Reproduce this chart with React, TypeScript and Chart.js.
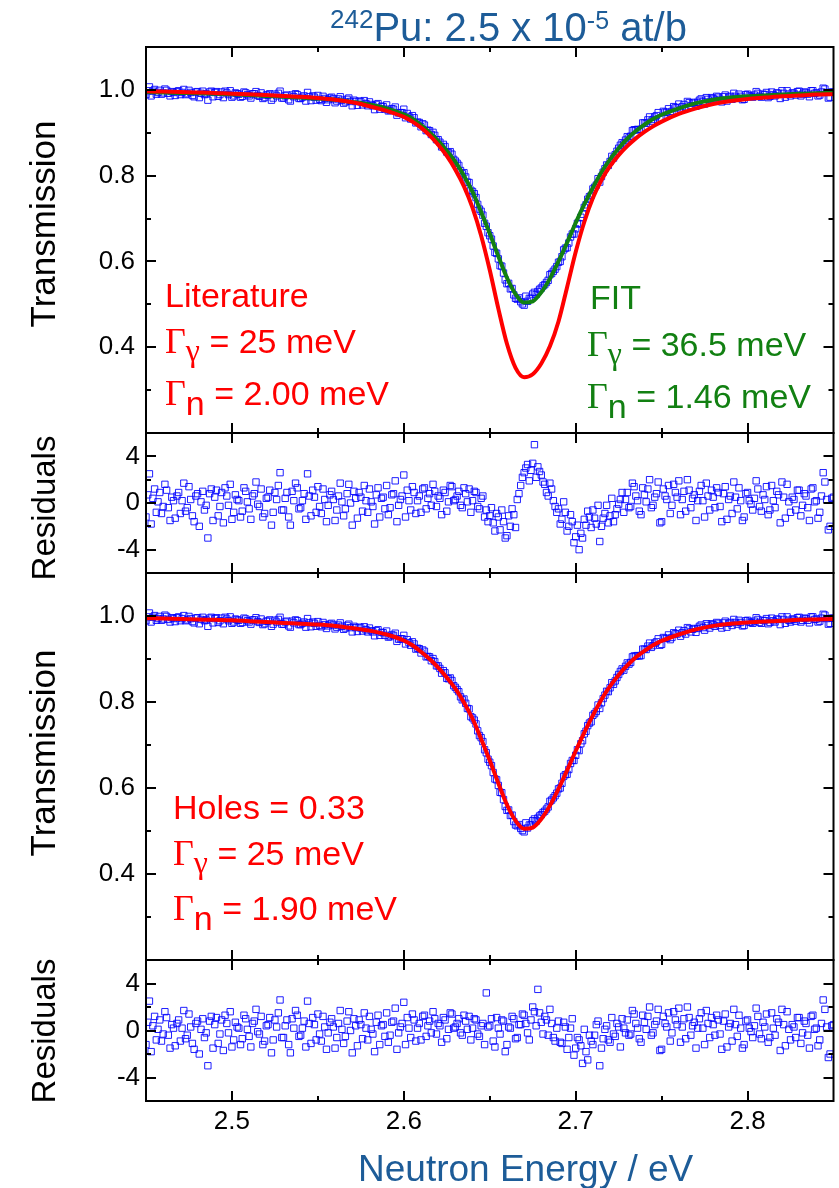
import React, { useEffect, useRef } from "react";
import { Chart, registerables } from "chart.js";

Chart.register(...registerables);

// ---------------- data ----------------
// measured points come on two interleaved energy grids (even / odd channels)
const E_START_EVEN = 2.45;
const E_START_ODD = 2.451;
const E_STEP = 0.002;

// measured transmission (same measurement shown in both transmission panels)
const TRANSMISSION_EVEN = [
  0.989, 1.007, 0.997, 0.990, 0.999, 0.993, 0.999, 0.986, 0.994, 0.996,
  0.989, 1.001, 0.991, 0.994, 0.984, 0.996, 0.992, 0.989, 0.976, 0.997,
  0.994, 0.985, 0.995, 0.997, 0.989, 0.983, 0.993, 0.990, 0.985, 0.993,
  0.986, 0.991, 0.996, 0.985, 0.980, 0.988, 0.991, 0.981, 0.986, 0.997,
  0.981, 0.988, 0.974, 0.984, 0.989, 0.980, 0.986, 0.994, 0.975, 0.983,
  0.987, 0.975, 0.980, 0.977, 0.983, 0.970, 0.979, 0.976, 0.972, 0.981,
  0.963, 0.973, 0.974, 0.965, 0.968, 0.972, 0.963, 0.966, 0.955, 0.961,
  0.965, 0.952, 0.955, 0.941, 0.947, 0.955, 0.945, 0.932, 0.935, 0.925,
  0.914, 0.918, 0.906, 0.896, 0.894, 0.884, 0.867, 0.868, 0.854, 0.850,
  0.834, 0.824, 0.805, 0.797, 0.784, 0.763, 0.749, 0.722, 0.708, 0.682,
  0.660, 0.636, 0.619, 0.590, 0.573, 0.548, 0.536, 0.522, 0.512, 0.506,
  0.498, 0.507, 0.514, 0.528, 0.530, 0.538, 0.546, 0.556, 0.572, 0.582,
  0.598, 0.611, 0.631, 0.643, 0.664, 0.676, 0.687, 0.710, 0.732, 0.751,
  0.769, 0.778, 0.785, 0.808, 0.825, 0.833, 0.841, 0.857, 0.871, 0.874,
  0.891, 0.892, 0.907, 0.908, 0.908, 0.923, 0.930, 0.927, 0.937, 0.947,
  0.934, 0.948, 0.956, 0.950, 0.959, 0.967, 0.961, 0.958, 0.970, 0.969,
  0.962, 0.976, 0.973, 0.982, 0.972, 0.980, 0.985, 0.978, 0.984, 0.974,
  0.985, 0.992, 0.981, 0.985, 0.978, 0.990, 0.985, 0.988, 0.992, 0.983,
  0.989, 0.982, 0.995, 0.986, 0.992, 0.998, 0.983, 0.990, 0.993, 0.988,
  0.997, 0.990, 0.994, 0.984, 0.998, 0.993, 0.988, 1.004, 0.994, 0.983,
  0.995,
];

const TRANSMISSION_ODD = [
  0.998, 0.986, 1.001, 0.994, 0.990, 1.002, 0.992, 0.996, 0.987, 0.998,
  0.994, 0.989, 0.999, 0.987, 0.995, 0.982, 0.997, 0.991, 0.995, 0.984,
  0.996, 0.989, 0.982, 0.993, 0.998, 0.986, 0.991, 0.983, 0.995, 0.989,
  0.981, 0.991, 0.987, 0.993, 0.982, 0.988, 0.976, 0.990, 0.992, 0.981,
  0.986, 0.977, 0.988, 0.991, 0.980, 0.983, 0.974, 0.984, 0.986, 0.976,
  0.978, 0.985, 0.971, 0.981, 0.979, 0.974, 0.984, 0.969, 0.978, 0.973,
  0.976, 0.964, 0.972, 0.975, 0.963, 0.966, 0.954, 0.968, 0.962, 0.955,
  0.951, 0.956, 0.960, 0.946, 0.947, 0.935, 0.938, 0.940, 0.923, 0.924,
  0.921, 0.905, 0.905, 0.901, 0.884, 0.878, 0.873, 0.855, 0.856, 0.838,
  0.829, 0.812, 0.807, 0.785, 0.766, 0.758, 0.733, 0.717, 0.689, 0.667,
  0.652, 0.621, 0.606, 0.589, 0.557, 0.549, 0.537, 0.514, 0.515, 0.501,
  0.519, 0.514, 0.524, 0.523, 0.535, 0.543, 0.551, 0.569, 0.577, 0.588,
  0.600, 0.627, 0.632, 0.657, 0.664, 0.689, 0.703, 0.726, 0.745, 0.754,
  0.773, 0.793, 0.798, 0.816, 0.824, 0.845, 0.849, 0.864, 0.877, 0.883,
  0.888, 0.905, 0.907, 0.907, 0.923, 0.922, 0.937, 0.931, 0.940, 0.932,
  0.950, 0.948, 0.945, 0.961, 0.958, 0.953, 0.966, 0.973, 0.963, 0.971,
  0.971, 0.979, 0.967, 0.978, 0.982, 0.976, 0.983, 0.972, 0.988, 0.983,
  0.978, 0.985, 0.990, 0.977, 0.989, 0.986, 0.983, 0.996, 0.985, 0.990,
  0.994, 0.985, 0.989, 0.993, 0.980, 0.992, 0.998, 0.986, 0.992, 0.996,
  0.986, 0.995, 0.990, 0.998, 0.992, 0.986, 0.995, 1.002, 0.981, 0.995,
];

// residuals of the FIT (panel 2)
const RESIDUALS_FIT_EVEN = [
  -1.2, 2.5, 0.4, -0.8, 0.9, -0.3, 1.1, -1.5, 0.2, 0.6,
  -0.9, 1.7, -0.4, 0.3, -1.6, 0.8, 0.1, -0.6, -3.0, 1.2,
  0.5, -1.1, 0.9, 1.3, -0.2, -1.4, 0.7, 0.2, -0.7, 1.0,
  -0.5, 0.6, 1.8, -0.3, -1.2, 0.4, 1.1, -0.8, 0.3, 2.6,
  -0.6, 0.9, -1.9, 0.2, 1.3, -0.4, 0.8, 2.5, -1.1, 0.5,
  1.4, -0.9, 0.3, -0.2, 1.0, -1.5, 0.6, 0.1, -0.5, 1.6,
  -1.9, 0.4, 0.9, -0.7, 0.2, 1.2, -0.3, 0.7, -1.2, 0.5,
  1.5, -0.4, 0.8, -1.6, 0.3, 2.4, 1.1, -0.6, 0.9, 0.2,
  -0.8, 1.3, 0.4, -0.2, 1.0, 0.6, -1.0, 0.9, 0.1, 1.4,
  0.3, 1.0, -0.4, 0.8, 1.2, 0.2, 0.9, -0.5, 0.6, -0.6,
  -1.1, -1.7, -0.9, -2.3, -1.6, -2.8, -2.0, -1.0, 0.3, 1.5,
  2.6, 3.3, 2.8, 5.0, 3.1, 2.4, 1.6, 0.6, 1.2, -0.3,
  -0.5, -1.4, -0.8, -2.0, -1.6, -2.9, -4.0, -3.0, -1.9, -1.2,
  -0.6, -1.8, -3.3, -1.3, -0.2, -1.1, -1.6, -0.5, 0.3, -0.8,
  0.9, -0.3, 1.4, 0.2, -1.0, 0.7, 1.2, -0.4, 0.5, 1.8,
  -1.6, 0.6, 1.5, -0.2, 0.9, 1.9, 0.3, -0.7, 1.1, 0.4,
  -1.5, 1.0, 0.2, 1.7, -0.6, 0.5, 1.3, -0.3, 0.8, -1.4,
  0.6, 1.8, -0.5, 0.2, -1.2, 0.9, -0.1, 0.4, 1.2, -0.7,
  0.3, -1.0, 1.5, -0.4, 0.7, 1.8, -1.3, 0.1, 0.5, -0.6,
  1.1, -0.2, 0.6, -1.5, 1.3, 0.2, -0.8, 2.6, 0.3, -2.0,
  0.5,
];

const RESIDUALS_FIT_ODD = [
  0.7, -1.8, 1.2, 0.1, -0.9, 1.6, -0.4, 0.5, -1.3, 0.9,
  0.2, -0.7, 1.4, -1.1, 0.6, -2.0, 1.0, -0.2, 0.8, -1.5,
  1.1, -0.3, -1.7, 0.6, 1.6, -0.8, 0.3, -1.2, 1.3, 0.1,
  -1.4, 0.8, -0.1, 1.2, -0.9, 0.5, -1.9, 0.9, 1.5, -0.6,
  0.4, -1.2, 1.0, 1.7, -0.5, 0.2, -1.4, 0.6, 1.1, -0.8,
  -0.3, 1.2, -1.6, 0.7, 0.3, -0.6, 1.7, -1.1, 0.8, 0.0,
  1.0, -1.3, 0.5, 1.5, -0.8, 0.1, -1.8, 1.3, 0.4, -0.5,
  -1.0, 0.7, 1.9, -0.2, 0.6, -1.2, 0.2, 1.4, -0.9, 0.6,
  1.2, -0.5, 0.8, 1.6, -0.3, 0.4, 1.1, -0.7, 1.5, 0.2,
  0.6, -0.2, 1.3, 0.1, -0.8, 1.0, -0.3, 0.4, -1.2, -1.6,
  -0.4, -2.4, -1.2, -0.6, -3.0, -1.1, -0.5, -2.1, 0.8, 2.2,
  3.0, 1.9, 3.4, 2.2, 2.7, 1.8, 0.9, 1.7, 0.2, -0.8,
  -1.8, 0.1, -2.4, -1.0, -3.4, -1.9, -2.6, -1.4, -0.7, -2.1,
  -1.3, -0.2, -2.0, -0.9, -1.7, 0.4, -1.0, -0.1, 0.9, 0.3,
  -0.4, 1.7, 0.6, -0.7, 1.3, 0.1, 2.0, -0.2, 0.8, -1.7,
  1.2, 0.3, -0.9, 1.6, 0.5, -1.0, 1.0, 2.0, -0.4, 0.7,
  0.2, 1.5, -1.2, 0.6, 1.1, -0.4, 0.9, -1.6, 1.4, 0.3,
  -0.9, 0.5, 1.3, -1.5, 0.8, 0.2, -0.6, 1.9, -0.3, 0.7,
  1.4, -0.6, 0.2, 1.0, -1.7, 0.5, 1.6, -0.8, 0.3, 1.1,
  -1.1, 0.8, -0.4, 1.2, 0.1, -1.3, 0.6, 1.8, -2.3, 0.4,
];

// residuals of the holes fit (panel 4)
const RESIDUALS_HOLES_EVEN = [
  -1.2, 2.5, 0.4, -0.8, 0.9, -0.3, 1.1, -1.5, 0.2, 0.6,
  -0.9, 1.7, -0.4, 0.3, -1.6, 0.8, 0.1, -0.6, -3.0, 1.2,
  0.5, -1.1, 0.9, 1.3, -0.2, -1.4, 0.7, 0.2, -0.7, 1.0,
  -0.5, 0.6, 1.8, -0.3, -1.2, 0.4, 1.1, -0.8, 0.3, 2.6,
  -0.6, 0.9, -1.9, 0.2, 1.3, -0.4, 0.8, 2.5, -1.1, 0.5,
  1.4, -0.9, 0.3, -0.2, 1.0, -1.5, 0.6, 0.1, -0.5, 1.6,
  -1.9, 0.4, 0.9, -0.7, 0.2, 1.2, -0.3, 0.7, -1.2, 0.5,
  1.5, -0.4, 0.8, -1.6, 0.3, 2.4, 1.1, -0.6, 0.9, 0.2,
  -0.8, 1.3, 0.4, -0.2, 1.0, 0.6, -1.0, 0.9, 0.1, 1.4,
  0.3, 1.0, -0.4, 0.8, 1.2, 0.2, 0.9, -0.5, 0.6, 3.2,
  0.4, -0.9, 1.1, -0.3, 0.8, -1.2, 0.2, 1.0, -0.6, 0.5,
  1.3, -0.2, 0.9, 1.6, 3.5, 0.7, 1.2, -0.4, 0.6, -0.9,
  0.8, -1.1, 0.3, -0.6, 1.0, -1.5, -0.8, -2.8, -1.8, -0.4,
  -1.2, 0.5, -3.0, -0.7, 0.4, -1.0, -0.3, 0.6, -1.4, 0.2,
  0.9, -0.3, 1.4, 0.2, -1.0, 0.7, 1.2, -0.4, 0.5, 1.8,
  -1.6, 0.6, 1.5, -0.2, 0.9, 1.9, 0.3, -0.7, 1.1, 0.4,
  -1.5, 1.0, 0.2, 1.7, -0.6, 0.5, 1.3, -0.3, 0.8, -1.4,
  0.6, 1.8, -0.5, 0.2, -1.2, 0.9, -0.1, 0.4, 1.2, -0.7,
  0.3, -1.0, 1.5, -0.4, 0.7, 1.8, -1.3, 0.1, 0.5, -0.6,
  1.1, -0.2, 0.6, -1.5, 1.3, 0.2, -0.8, 2.6, 0.3, -2.0,
  0.5,
];

const RESIDUALS_HOLES_ODD = [
  0.7, -1.8, 1.2, 0.1, -0.9, 1.6, -0.4, 0.5, -1.3, 0.9,
  0.2, -0.7, 1.4, -1.1, 0.6, -2.0, 1.0, -0.2, 0.8, -1.5,
  1.1, -0.3, -1.7, 0.6, 1.6, -0.8, 0.3, -1.2, 1.3, 0.1,
  -1.4, 0.8, -0.1, 1.2, -0.9, 0.5, -1.9, 0.9, 1.5, -0.6,
  0.4, -1.2, 1.0, 1.7, -0.5, 0.2, -1.4, 0.6, 1.1, -0.8,
  -0.3, 1.2, -1.6, 0.7, 0.3, -0.6, 1.7, -1.1, 0.8, 0.0,
  1.0, -1.3, 0.5, 1.5, -0.8, 0.1, -1.8, 1.3, 0.4, -0.5,
  -1.0, 0.7, 1.9, -0.2, 0.6, -1.2, 0.2, 1.4, -0.9, 0.6,
  1.2, -0.5, 0.8, 1.6, -0.3, 0.4, 1.1, -0.7, 1.5, 0.2,
  0.6, -0.2, 1.3, 0.1, -0.8, 1.0, -0.3, 0.4, -1.2, 0.3,
  1.0, -1.4, 0.2, 0.9, -1.8, 0.3, 1.2, -0.7, 0.5, 1.4,
  0.6, -0.8, 2.0, 0.4, 1.5, -0.3, 0.9, 1.8, -0.6, 0.2,
  -1.0, 0.7, -1.6, 0.2, -2.1, -0.6, -1.3, 0.1, -2.5, -0.9,
  -0.4, 0.8, -1.5, 0.1, -0.8, 1.1, -0.5, 0.3, 1.0, -0.2,
  -0.4, 1.7, 0.6, -0.7, 1.3, 0.1, 2.0, -0.2, 0.8, -1.7,
  1.2, 0.3, -0.9, 1.6, 0.5, -1.0, 1.0, 2.0, -0.4, 0.7,
  0.2, 1.5, -1.2, 0.6, 1.1, -0.4, 0.9, -1.6, 1.4, 0.3,
  -0.9, 0.5, 1.3, -1.5, 0.8, 0.2, -0.6, 1.9, -0.3, 0.7,
  1.4, -0.6, 0.2, 1.0, -1.7, 0.5, 1.6, -0.8, 0.3, 1.1,
  -1.1, 0.8, -0.4, 1.2, 0.1, -1.3, 0.6, 1.8, -2.3, 0.4,
];

const CURVE_ENERGY = [
  2.45, 2.46, 2.47, 2.48, 2.49, 2.5, 2.51, 2.52, 2.53, 2.54, 2.55, 2.56, 2.57, 2.58, 2.59,
  2.6, 2.605, 2.61, 2.615, 2.62, 2.625, 2.63, 2.635, 2.64, 2.645, 2.65, 2.655, 2.66, 2.665,
  2.67, 2.675, 2.68, 2.685, 2.69, 2.695, 2.7, 2.705, 2.71, 2.715, 2.72, 2.725, 2.73, 2.735,
  2.74, 2.745, 2.75, 2.76, 2.77, 2.78, 2.79, 2.8, 2.81, 2.82, 2.83, 2.84, 2.85,
];

const LITERATURE_CURVE = [
  0.997, 0.996, 0.995, 0.994, 0.993, 0.991, 0.990, 0.988, 0.986, 0.984, 0.981, 0.977, 0.971, 0.962, 0.951,
  0.937, 0.926, 0.912, 0.894, 0.872, 0.846, 0.814, 0.775, 0.725, 0.660, 0.580, 0.490, 0.408, 0.352,
  0.330, 0.337, 0.362, 0.402, 0.460, 0.540, 0.622, 0.692, 0.748, 0.790, 0.822, 0.848, 0.869, 0.887,
  0.902, 0.915, 0.926, 0.944, 0.957, 0.967, 0.974, 0.979, 0.982, 0.985, 0.987, 0.989, 0.990,
];

const FIT_CURVE = [
  0.995, 0.994, 0.993, 0.992, 0.991, 0.990, 0.988, 0.986, 0.984, 0.982, 0.980, 0.977, 0.972, 0.966, 0.957,
  0.943, 0.933, 0.918, 0.901, 0.881, 0.858, 0.832, 0.800, 0.762, 0.715, 0.665, 0.612, 0.562, 0.524,
  0.504, 0.507, 0.528, 0.560, 0.600, 0.644, 0.690, 0.733, 0.772, 0.808, 0.838, 0.864, 0.886, 0.904,
  0.919, 0.932, 0.942, 0.957, 0.969, 0.977, 0.982, 0.985, 0.987, 0.989, 0.991, 0.992, 0.993,
];

const HOLES_CURVE = [
  0.995, 0.994, 0.993, 0.992, 0.991, 0.990, 0.988, 0.986, 0.984, 0.982, 0.980, 0.977, 0.972, 0.966, 0.957,
  0.943, 0.932, 0.917, 0.900, 0.880, 0.857, 0.831, 0.799, 0.761, 0.714, 0.664, 0.611, 0.561, 0.524,
  0.505, 0.508, 0.528, 0.559, 0.598, 0.641, 0.686, 0.729, 0.769, 0.806, 0.837, 0.863, 0.885, 0.904,
  0.919, 0.932, 0.942, 0.957, 0.969, 0.977, 0.982, 0.985, 0.987, 0.989, 0.991, 0.992, 0.993,
];

const X_TICKS = [2.5, 2.6, 2.7, 2.8];
const X_MINOR = [2.55, 2.65, 2.75];
const T_TICKS = [0.4, 0.6, 0.8, 1.0];
const T_MINOR = [0.3, 0.5, 0.7, 0.9];
const R_TICKS = [-4, 0, 4];
const R_MINOR = [-2, 2];

// ---------------- layout / style ----------------
const W = 839;
const H = 1188;
const PLOT_LEFT = 146;
const PLOT_RIGHT = 835;
const SANS = '"Liberation Sans", Arial, Helvetica, sans-serif';
const SERIF = '"Liberation Serif", "Times New Roman", serif';
const BLUE_TEXT = "#1d5c98";
const RED = "#ff0000";
const GREEN = "#128012";
const MARK = "rgba(0,0,255,0.88)";

type Part = { t: string; font: string; dy?: number };
type TextItem = { x: number; y: number; color: string; parts: Part[] };

function drawRich(ctx: CanvasRenderingContext2D, item: TextItem) {
  ctx.fillStyle = item.color;
  ctx.textAlign = "left";
  ctx.textBaseline = "alphabetic";
  let cx = item.x;
  for (const p of item.parts) {
    ctx.font = p.font;
    ctx.fillText(p.t, cx, item.y + (p.dy || 0));
    cx += ctx.measureText(p.t).width;
  }
}

const F = (s: number) => `${s}px ${SANS}`;
const FS = (s: number) => `${s}px ${SERIF}`;
const gammaG = (rest: string): Part[] => [
  { t: "Γ", font: FS(36) },
  { t: "γ", font: FS(32), dy: 8 },
  { t: rest, font: F(34) },
];
const gammaN = (rest: string): Part[] => [
  { t: "Γ", font: FS(36) },
  { t: "n", font: F(34), dy: 10 },
  { t: rest, font: F(34) },
];

type PanelSpec = {
  top: number;
  bottom: number;
  kind: "T" | "R";
  showX: boolean;
  yTitle: string;
  yTitleSize: number;
  yTitleCenter: number;
  labelPad: number;
  datasets: any[];
  texts: TextItem[];
};

const gridPoints = (start: number, vals: number[]) => vals.map((y, i) => ({ x: start + i * E_STEP, y }));
const curvePoints = (vals: number[]) => CURVE_ENERGY.map((x, i) => ({ x, y: vals[i] }));

const scatterSet = (even: number[], odd: number[]) => ({
  label: "data",
  data: [...gridPoints(E_START_EVEN, even), ...gridPoints(E_START_ODD, odd)],
  pointStyle: "rect",
  pointRadius: 4.5,
  borderColor: MARK,
  backgroundColor: "rgba(0,0,0,0)",
  borderWidth: 1,
  showLine: false,
  order: 2,
});
const curveSet = (vals: number[], color: string, order: number) => ({
  label: "curve",
  data: curvePoints(vals),
  showLine: true,
  borderColor: color,
  backgroundColor: color,
  borderWidth: 4,
  pointRadius: 0,
  cubicInterpolationMode: "monotone",
  fill: false,
  order,
});

const PANELS: PanelSpec[] = [
  {
    top: 47,
    bottom: 433,
    kind: "T",
    showX: false,
    yTitle: "Transmission",
    yTitleSize: 35,
    yTitleCenter: 224,
    labelPad: 11,
    datasets: [
      curveSet(LITERATURE_CURVE, RED, 0),
      curveSet(FIT_CURVE, GREEN, 1),
      scatterSet(TRANSMISSION_EVEN, TRANSMISSION_ODD),
    ],
    texts: [
      {
        x: 330,
        y: 41,
        color: BLUE_TEXT,
        parts: [
          { t: "242", font: F(26), dy: -13 },
          { t: "Pu: 2.5 x 10", font: F(40) },
          { t: "-5", font: F(25), dy: -12 },
          { t: " at/b", font: F(40) },
        ],
      },
      { x: 165, y: 307, color: RED, parts: [{ t: "Literature", font: F(34) }] },
      { x: 165, y: 353, color: RED, parts: gammaG(" = 25 meV") },
      { x: 165, y: 405, color: RED, parts: gammaN(" = 2.00 meV") },
      { x: 590, y: 309, color: GREEN, parts: [{ t: "FIT", font: F(34) }] },
      { x: 587, y: 356, color: GREEN, parts: gammaG(" = 36.5 meV") },
      { x: 587, y: 408, color: GREEN, parts: gammaN(" = 1.46 meV") },
    ],
  },
  {
    top: 433,
    bottom: 573,
    kind: "R",
    showX: false,
    yTitle: "Residuals",
    yTitleSize: 33,
    yTitleCenter: 508,
    labelPad: 6,
    datasets: [scatterSet(RESIDUALS_FIT_EVEN, RESIDUALS_FIT_ODD)],
    texts: [],
  },
  {
    top: 573,
    bottom: 960,
    kind: "T",
    showX: false,
    yTitle: "Transmission",
    yTitleSize: 35,
    yTitleCenter: 753,
    labelPad: 11,
    datasets: [curveSet(HOLES_CURVE, RED, 0), scatterSet(TRANSMISSION_EVEN, TRANSMISSION_ODD)],
    texts: [
      { x: 173, y: 819, color: RED, parts: [{ t: "Holes = 0.33", font: F(34) }] },
      { x: 173, y: 865, color: RED, parts: gammaG(" = 25 meV") },
      { x: 173, y: 920, color: RED, parts: gammaN(" = 1.90 meV") },
    ],
  },
  {
    top: 960,
    bottom: 1101,
    kind: "R",
    showX: true,
    yTitle: "Residuals",
    yTitleSize: 33,
    yTitleCenter: 1031,
    labelPad: 6,
    datasets: [scatterSet(RESIDUALS_HOLES_EVEN, RESIDUALS_HOLES_ODD)],
    texts: [
      {
        x: 358,
        y: 1181,
        color: BLUE_TEXT,
        parts: [{ t: "Neutron Energy / eV", font: F(37) }],
      },
    ],
  },
];

function makeConfig(p: PanelSpec): any {
  const isT = p.kind === "T";
  const yMajor = isT ? T_TICKS : R_TICKS;
  const yMinor = isT ? T_MINOR : R_MINOR;
  const framePlugin = {
    id: "frame",
    afterDraw(chart: any) {
      const ctx: CanvasRenderingContext2D = chart.ctx;
      const { left, right, top, bottom } = chart.chartArea;
      const xs = chart.scales.x;
      const ys = chart.scales.y;
      ctx.save();
      ctx.strokeStyle = "#000";
      ctx.lineWidth = 2;
      ctx.beginPath();
      const seg = (x1: number, y1: number, x2: number, y2: number) => {
        ctx.moveTo(x1, y1);
        ctx.lineTo(x2, y2);
      };
      X_TICKS.forEach((v) => {
        const px = Math.round(xs.getPixelForValue(v));
        seg(px, bottom, px, bottom - 10);
        seg(px, top, px, top + 10);
      });
      X_MINOR.forEach((v) => {
        const px = Math.round(xs.getPixelForValue(v));
        seg(px, bottom, px, bottom - 5);
        seg(px, top, px, top + 5);
      });
      yMajor.forEach((v) => {
        const py = Math.round(ys.getPixelForValue(v));
        seg(left, py, left + 10, py);
        seg(right, py, right - 10, py);
      });
      yMinor.forEach((v) => {
        const py = Math.round(ys.getPixelForValue(v));
        seg(left, py, left + 5, py);
        seg(right, py, right - 5, py);
      });
      ctx.stroke();
      ctx.strokeRect(left, top, right - left, bottom - top);

      // y title
      ctx.save();
      ctx.translate(55, p.yTitleCenter);
      ctx.rotate(-Math.PI / 2);
      ctx.font = F(p.yTitleSize);
      ctx.fillStyle = "#000";
      ctx.textAlign = "center";
      ctx.textBaseline = "alphabetic";
      ctx.fillText(p.yTitle, 0, 0);
      ctx.restore();

      p.texts.forEach((t) => drawRich(ctx, t));
      ctx.restore();
    },
  };

  return {
    type: "scatter",
    data: { datasets: p.datasets },
    plugins: [framePlugin],
    options: {
      responsive: false,
      animation: false,
      events: [],
      layout: {
        padding: {
          left: 0,
          right: W - PLOT_RIGHT,
          top: p.top,
          bottom: p.showX ? 0 : H - p.bottom,
        },
      },
      plugins: { legend: { display: false }, tooltip: { enabled: false }, title: { display: false } },
      scales: {
        x: {
          type: "linear",
          display: p.showX,
          min: 2.45,
          max: 2.85,
          afterBuildTicks: (s: any) => {
            s.ticks = X_TICKS.map((v) => ({ value: v }));
          },
          afterFit: (s: any) => {
            if (p.showX) s.height = H - p.bottom;
          },
          grid: { display: false, drawTicks: false },
          border: { display: false },
          ticks: {
            padding: 5,
            color: "#000",
            font: { family: SANS, size: 26 },
            maxRotation: 0,
            autoSkip: false,
            callback: (v: any) => Number(v).toFixed(1),
          },
        },
        y: {
          type: "linear",
          min: isT ? 0.2 : -6,
          max: isT ? 1.1 : 6,
          afterBuildTicks: (s: any) => {
            s.ticks = yMajor.map((v) => ({ value: v }));
          },
          afterFit: (s: any) => {
            s.width = PLOT_LEFT;
          },
          grid: { display: false, drawTicks: false },
          border: { display: false },
          ticks: {
            padding: p.labelPad,
            color: "#000",
            font: { family: SANS, size: 26 },
            autoSkip: false,
            callback: (v: any) => (isT ? Number(v).toFixed(1) : String(v)),
          },
        },
      },
    },
  };
}

export default function App() {
  const refs = [
    useRef<HTMLCanvasElement>(null),
    useRef<HTMLCanvasElement>(null),
    useRef<HTMLCanvasElement>(null),
    useRef<HTMLCanvasElement>(null),
  ];

  useEffect(() => {
    const charts = PANELS.map((p, i) => new Chart(refs[i].current as HTMLCanvasElement, makeConfig(p)));
    return () => charts.forEach((c) => c.destroy());
  }, []);

  return (
    <div style={{ position: "absolute", left: 0, top: 0, width: W, height: H, background: "#fff", overflow: "hidden" }}>
      {refs.map((r, i) => (
        <canvas
          key={i}
          ref={r}
          width={W}
          height={H}
          style={{ position: "absolute", left: 0, top: 0, width: W, height: H }}
        />
      ))}
    </div>
  );
}
